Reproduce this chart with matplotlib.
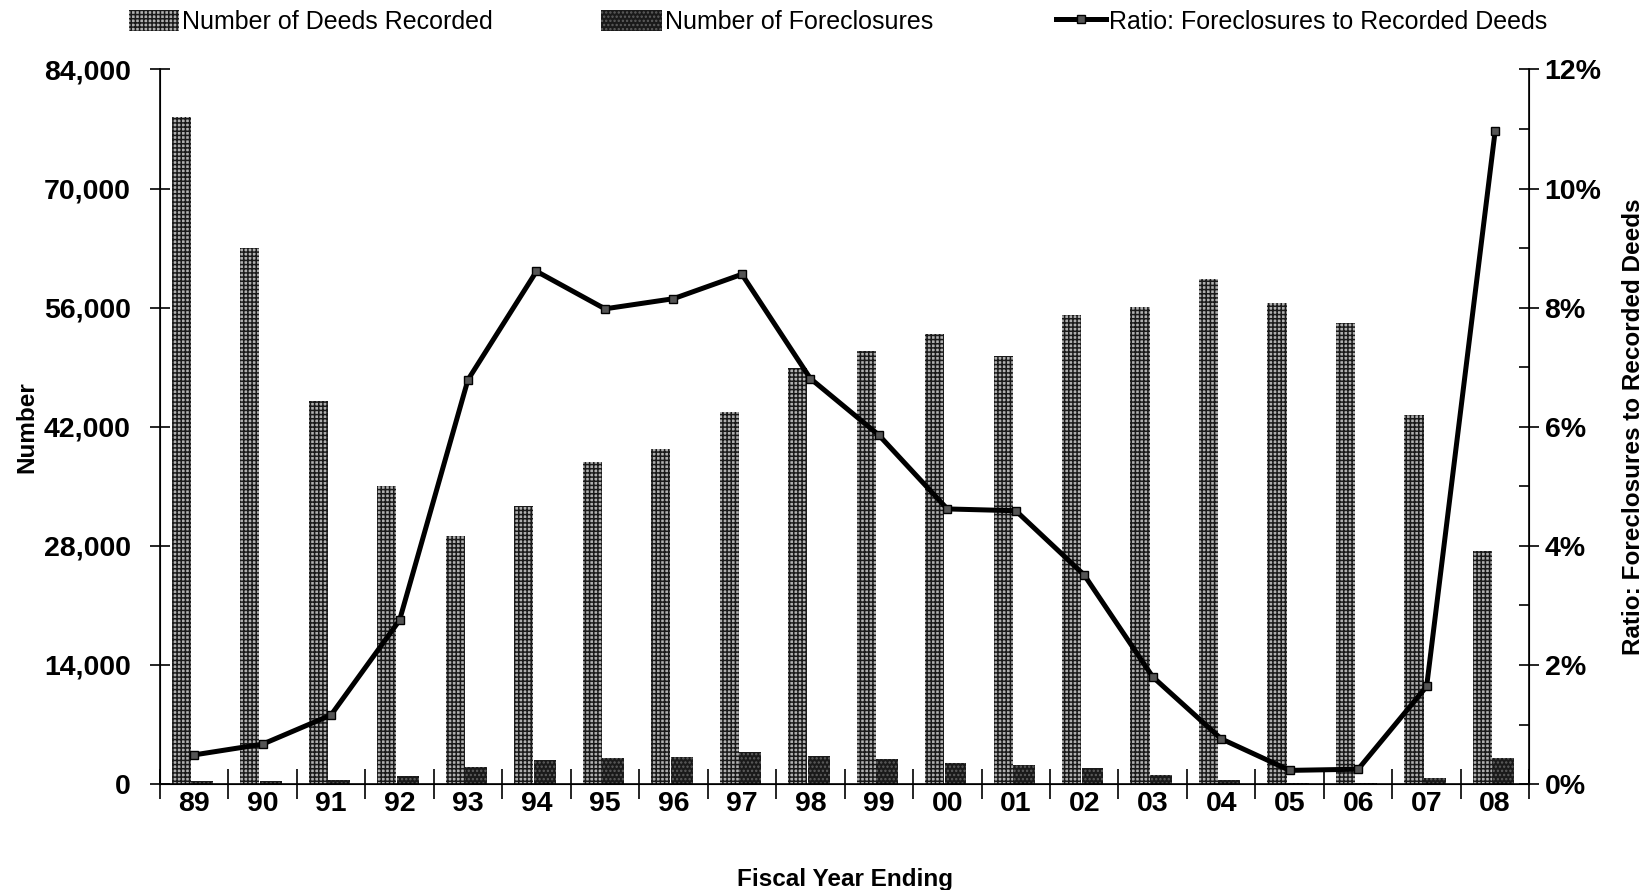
import numpy as np
import matplotlib
matplotlib.use("Agg")
import matplotlib.pyplot as plt
from matplotlib.ticker import FuncFormatter, MultipleLocator

plt.rcParams['font.family'] = ['Liberation Sans', 'DejaVu Sans']
plt.rcParams['hatch.linewidth'] = 1.1

years = ['89', '90', '91', '92', '93', '94', '95', '96', '97', '98',
         '99', '00', '01', '02', '03', '04', '05', '06', '07', '08']
deeds = [78400, 63000, 45000, 35000, 29200, 32700, 37800, 39400, 43700, 48900,
         50900, 52900, 50300, 55100, 56100, 59400, 56600, 54200, 43400, 27400]
foreclosures = [400, 420, 520, 960, 1980, 2810, 3020, 3210, 3760, 3320,
                2950, 2430, 2290, 1930, 1010, 450, 140, 135, 720, 3010]
ratio = [0.49, 0.67, 1.16, 2.75, 6.79, 8.61, 7.98, 8.15, 8.56, 6.81,
         5.86, 4.62, 4.59, 3.51, 1.80, 0.76, 0.23, 0.25, 1.64, 10.96]

x = np.arange(len(years))

fig = plt.figure(figsize=(16.48, 8.9), dpi=100)
ax = fig.add_axes([0.097, 0.119, 0.831, 0.803])

b1 = ax.bar(x - 0.185, deeds, width=0.28, facecolor='#b0b0b0',
            edgecolor='#1a1a1a', hatch='++++', linewidth=0,
            label='Number of Deeds Recorded')
b2 = ax.bar(x + 0.12, foreclosures, width=0.32, facecolor='#1a1a1a',
            edgecolor='#5e5e5e', hatch='....', linewidth=0,
            label='Number of Foreclosures')

ax.set_xlim(-0.5, len(years) - 0.5)
ax.set_ylim(0, 84000)
ax.yaxis.set_major_locator(MultipleLocator(14000))
ax.yaxis.set_major_formatter(FuncFormatter(lambda v, p: f'{int(v):,}'))
ax.tick_params(axis='y', direction='inout', length=14, width=1.2, pad=14,
               labelsize=20.5)
for lab in ax.get_yticklabels():
    lab.set_fontweight('bold')

ax.set_xticks(np.arange(-0.5, len(years), 1))
ax.set_xticklabels([])
ax.tick_params(axis='x', which='major', direction='inout', length=22, width=1.2)
ax.set_xticks(x, years, minor=True)
ax.tick_params(axis='x', which='minor', length=0, pad=5, labelsize=20.5)
for lab in ax.get_xticklabels(minor=True):
    lab.set_fontweight('bold')

ax.spines['top'].set_visible(False)
for s in ['left', 'bottom', 'right']:
    ax.spines[s].set_linewidth(1.2)

ax.set_ylabel('Number', fontsize=17.5, fontweight='bold')
ax.yaxis.set_label_coords(-0.089, 0.5)
ax.set_xlabel('Fiscal Year Ending', fontsize=17.5, fontweight='bold')
ax.xaxis.set_label_coords(0.5, -0.1175)

ax2 = ax.twinx()
ln, = ax2.plot(x, ratio, color='black', linewidth=3.6, marker='s',
               markersize=6, markerfacecolor='#555555', markeredgecolor='black',
               label='Ratio: Foreclosures to Recorded Deeds')
ax2.set_ylim(0, 12)
ax2.yaxis.set_major_locator(MultipleLocator(2))
ax2.yaxis.set_minor_locator(MultipleLocator(1))
ax2.yaxis.set_major_formatter(FuncFormatter(lambda v, p: f'{int(v)}%'))
ax2.tick_params(axis='y', which='major', direction='inout', length=14,
                width=1.2, pad=4, labelsize=20.5)
ax2.tick_params(axis='y', which='minor', direction='in', length=7, width=1.2)
for lab in ax2.get_yticklabels():
    lab.set_fontweight('bold')
ax2.spines['top'].set_visible(False)
ax2.set_ylabel('Ratio: Foreclosures to Recorded Deeds', fontsize=17.5,
               fontweight='bold')
ax2.yaxis.set_label_coords(1.068, 0.5)

# three separate legend entries, placed like the original
legend_items = [(b1, 0.0783, 2.0), (b2, 0.3647, 2.45), (ln, 0.641, 2.0)]
for handle, xpos, hlen in legend_items:
    fig.legend(handles=[handle], loc='upper left', bbox_to_anchor=(xpos, 0.989),
               frameon=False, fontsize=18, borderpad=0, borderaxespad=0,
               handlelength=hlen, handletextpad=0.1, handleheight=0.9)

fig.savefig('out.png', dpi=100)
